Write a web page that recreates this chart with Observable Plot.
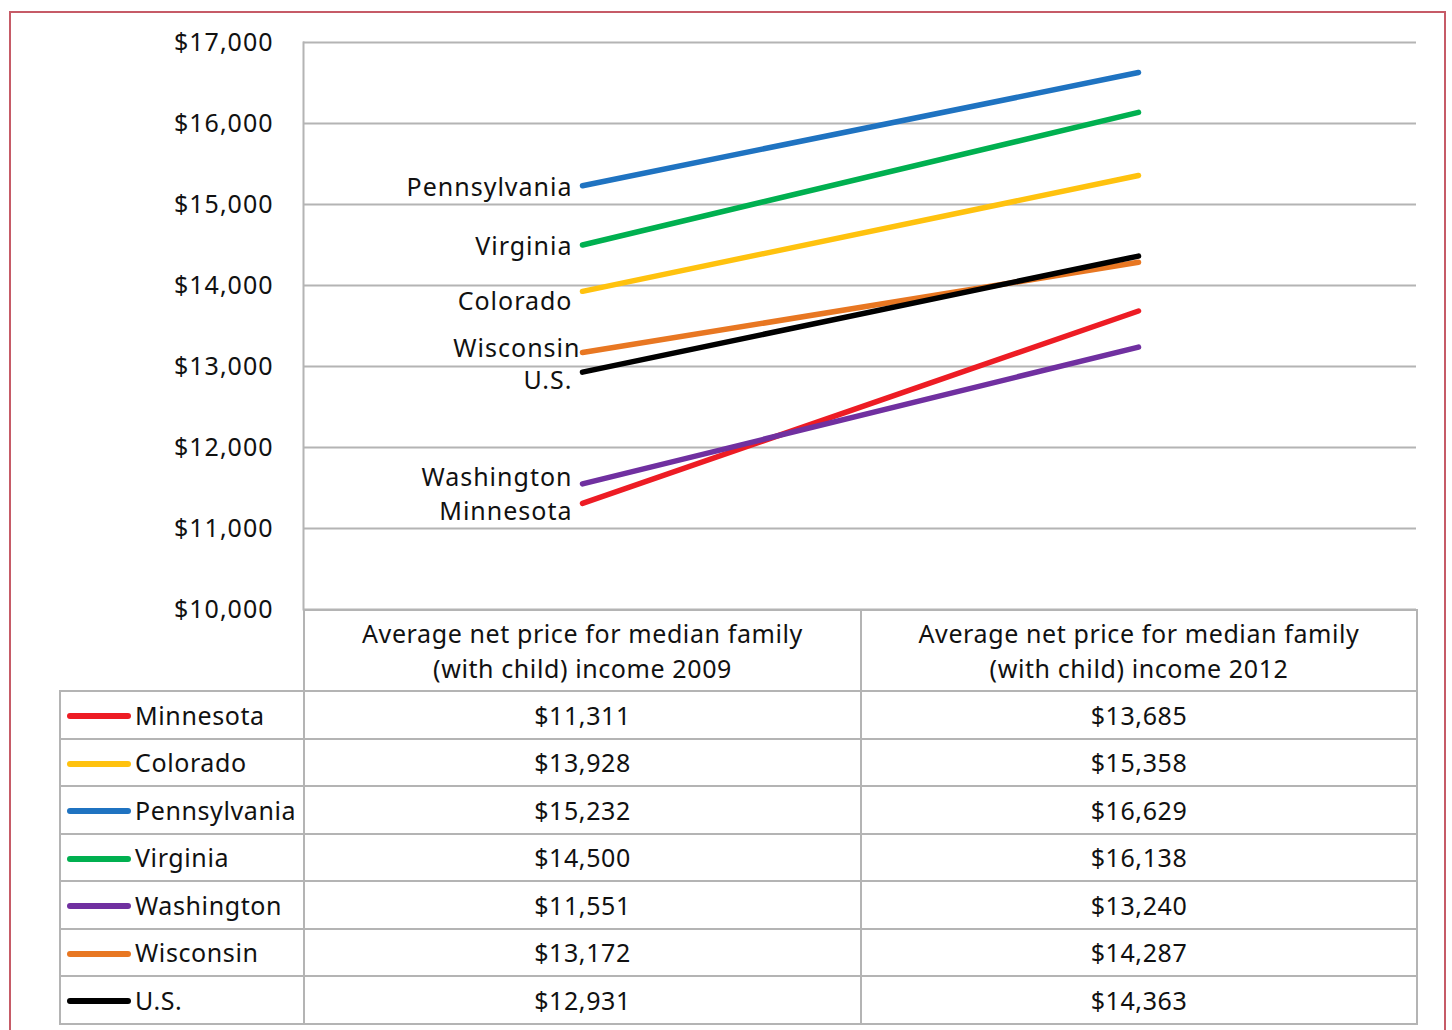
<!DOCTYPE html>
<html>
<head>
<meta charset="utf-8">
<script src="https://cdn.jsdelivr.net/npm/d3@7"></script>
<script src="https://cdn.jsdelivr.net/npm/@observablehq/plot@0.6"></script>
<style>
  html, body { margin: 0; padding: 0; background: #fff; overflow: hidden; }
  #wrap { position: relative; width: 1452px; height: 1030px; font-family: "Noto Sans", "Open Sans", sans-serif; }
  #border { position: absolute; left: 9px; top: 11px; width: 1437px; height: 1040px; border: 2px solid #c65b67; box-sizing: border-box; }
  #chart { position: absolute; left: 0; top: 0; }
  #chart svg text { letter-spacing: 1px; }
  table { position: absolute; left: 59px; top: 609px; border-collapse: collapse; table-layout: fixed; font-size: 25px; letter-spacing: 0.6px; color: #111; }
  td { border: 2px solid #b4b4b4; padding: 0; text-align: center; }
  tr.head td { height: 79px; line-height: 35px; vertical-align: middle; }
  tr.row td { height: 45.5px; }
  td.lab { text-align: left; white-space: nowrap; }
  .sw { display: inline-block; width: 64px; height: 6px; border-radius: 3px; margin: 0 4px 0 6px; vertical-align: middle; position: relative; top: -2px; }
</style>
</head>
<body>
<div id="wrap">
  <div id="chart"></div>
  <div id="border"></div>
</div>
<script>
// ---- data ----
const years = ["2009", "2012"];
const states = ["Minnesota", "Colorado", "Pennsylvania", "Virginia", "Washington", "Wisconsin", "U.S."];
const values2009 = [11311, 13928, 15232, 14500, 11551, 13172, 12931];
const values2012 = [13685, 15358, 16629, 16138, 13240, 14287, 14363];
const colHeaders = [
  "Average net price for median family\n(with child) income 2009",
  "Average net price for median family\n(with child) income 2012"
];
const yTicks = [10000, 11000, 12000, 13000, 14000, 15000, 16000, 17000];

// ---- styles (not data) ----
const colors = ["#ed1c24", "#ffc20e", "#1f73c1", "#00b050", "#7030a0", "#e87722", "#000000"];
const labelNudge = { "Minnesota": 9, "Colorado": 11, "Pennsylvania": 2, "Virginia": 2, "Washington": -6, "Wisconsin": -4, "U.S.": 9 };
const labelDx = { "Wisconsin": -2 };

const fmt = d => "$" + d3.format(",")(d);

const rows = [];
states.forEach((s, i) => {
  rows.push({ state: s, year: years[0], value: values2009[i] });
  rows.push({ state: s, year: years[1], value: values2012[i] });
});
const starts = rows.filter(d => d.year === years[0]);

const chart = Plot.plot({
  width: 1452,
  height: 620,
  marginLeft: 303,
  marginRight: 36,
  marginTop: 42,
  marginBottom: 11,
  style: { fontFamily: "'Noto Sans', 'Open Sans', sans-serif", fontSize: "25px", color: "#111", background: "transparent", overflow: "visible" },
  x: { type: "point", domain: years, padding: 0.5, axis: null },
  y: { domain: [10000, 17000], ticks: yTicks, tickFormat: fmt, tickSize: 0, tickPadding: 30, label: null },
  color: { domain: states, range: colors },
  marks: [
    Plot.ruleY(yTicks, { stroke: "#b4b4b4", strokeWidth: 2 }),
    Plot.frame({ anchor: "left", stroke: "#b4b4b4", strokeWidth: 2 }),
    Plot.line(rows, { x: "year", y: "value", z: "state", stroke: "state", strokeWidth: 5.5, strokeLinecap: "round" }),
    ...states.map(s => Plot.text(starts.filter(d => d.state === s), {
      x: "year", y: "value", text: "state", textAnchor: "end",
      dx: labelDx[s] ?? -10, dy: labelNudge[s], fill: "#111", fontSize: 25
    }))
  ]
});
document.getElementById("chart").appendChild(chart);

// ---- data table ----
const table = document.createElement("table");
const cg = document.createElement("colgroup");
[244, 557, 556].forEach(w => { const c = document.createElement("col"); c.style.width = w + "px"; cg.appendChild(c); });
table.appendChild(cg);
const hr = document.createElement("tr");
hr.className = "head";
const h0 = document.createElement("td");
h0.style.borderTop = "none"; h0.style.borderLeft = "none";
hr.appendChild(h0);
colHeaders.forEach(h => {
  const td = document.createElement("td");
  td.innerHTML = h.split("\n").join("<br>");
  hr.appendChild(td);
});
table.appendChild(hr);
states.forEach((s, i) => {
  const tr = document.createElement("tr");
  tr.className = "row";
  const l = document.createElement("td");
  l.className = "lab";
  l.innerHTML = `<span class="sw" style="background:${colors[i]}"></span>${s}`;
  tr.appendChild(l);
  [values2009[i], values2012[i]].forEach(v => {
    const td = document.createElement("td");
    td.textContent = fmt(v);
    tr.appendChild(td);
  });
  table.appendChild(tr);
});
document.getElementById("wrap").appendChild(table);
</script>
</body>
</html>
